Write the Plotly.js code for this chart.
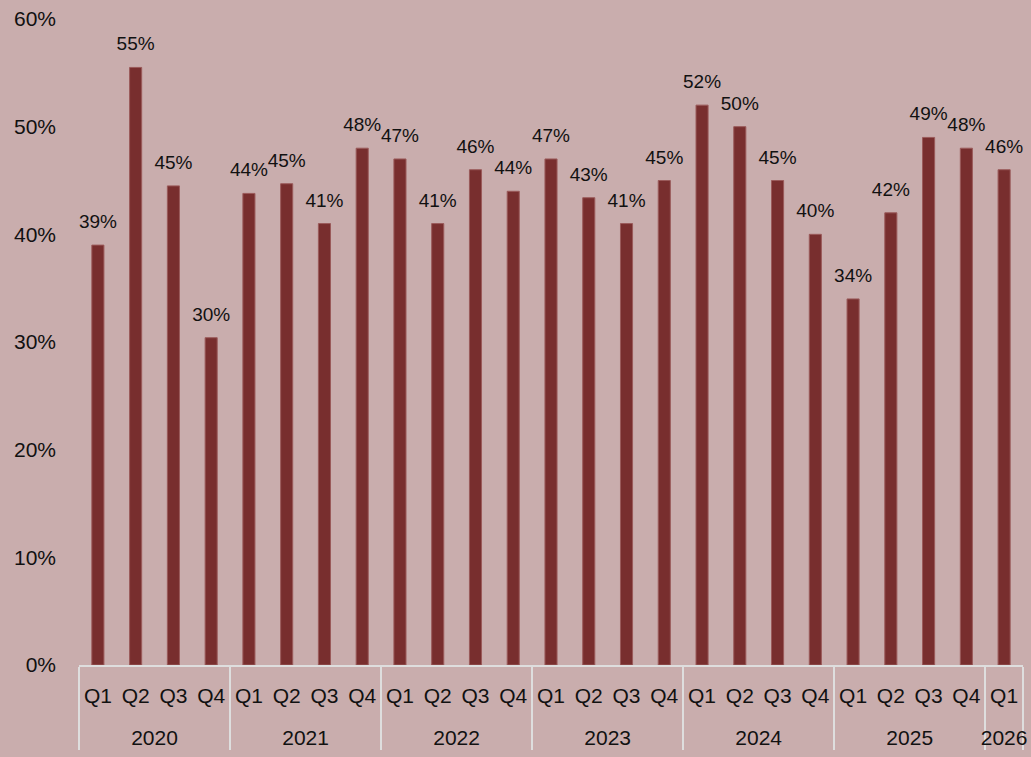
<!DOCTYPE html>
<html>
<head>
<meta charset="utf-8">
<script src="https://cdn.plot.ly/plotly-3.0.1.min.js"></script>
<style>
html,body{margin:0;padding:0;background:#c9adad;}
#chart{width:1031px;height:757px;}
</style>
</head>
<body>
<div id="chart"></div>
<script>
const years = ['2020','2020','2020','2020','2021','2021','2021','2021','2022','2022','2022','2022','2023','2023','2023','2023','2024','2024','2024','2024','2025','2025','2025','2025','2026'];
const quarters = ['Q1','Q2','Q3','Q4','Q1','Q2','Q3','Q4','Q1','Q2','Q3','Q4','Q1','Q2','Q3','Q4','Q1','Q2','Q3','Q4','Q1','Q2','Q3','Q4','Q1'];
const values = [39.0,55.5,44.5,30.4,43.8,44.7,41.0,48.0,47.0,41.0,46.0,44.0,47.0,43.4,41.0,45.0,52.0,50.0,45.0,40.0,34.0,42.0,49.0,48.0,46.0];
const valueLabels = ['39%','55%','45%','30%','44%','45%','41%','48%','47%','41%','46%','44%','47%','43%','41%','45%','52%','50%','45%','40%','34%','42%','49%','48%','46%'];

const FONT = 'Liberation Sans, Arial, sans-serif';
const BG = '#c9adad';

// year labels drawn one line lower, as in the reference
const yearCats = years.map(y => '<br>' + y);

const bars = {
  type: 'bar',
  x: [yearCats, quarters],
  y: values,
  marker: {color: '#782e2e', line: {color: '#9a5a5a', width: 1}},
  hoverinfo: 'skip',
  showlegend: false
};
const labelsTrace = {
  type: 'scatter',
  mode: 'markers+text',
  x: [yearCats, quarters],
  y: values,
  text: valueLabels,
  textposition: 'top center',
  textfont: {family: FONT, size: 19, color: '#111111'},
  marker: {size: 18, color: 'rgba(0,0,0,0)'},
  cliponaxis: false,
  hoverinfo: 'skip',
  showlegend: false
};

const layout = {
  width: 1031, height: 757,
  paper_bgcolor: BG, plot_bgcolor: BG,
  margin: {l: 79, r: 8, t: 19, b: 92},
  bargap: 0.68,
  font: {family: FONT, size: 21, color: '#111111'},
  yaxis: {
    range: [0, 60], dtick: 10, ticksuffix: '%',
    showgrid: false, zeroline: false, showline: false,
    ticks: '', ticklabelstandoff: 22,
    tickfont: {family: FONT, size: 21, color: '#111111'}
  },
  xaxis: {
    type: 'multicategory',
    range: [-0.5, 24.5], autorange: false,
    tickangle: 0,
    ticklabelstandoff: 11,
    showline: true, linecolor: '#dedede', linewidth: 2,
    showdividers: true, dividercolor: '#dedede', dividerwidth: 2,
    ticks: '', showgrid: false,
    tickfont: {family: FONT, size: 21, color: '#111111'}
  }
};

Plotly.newPlot('chart', [bars, labelsTrace], layout, {displayModeBar: false, staticPlot: true});
</script>
</body>
</html>
